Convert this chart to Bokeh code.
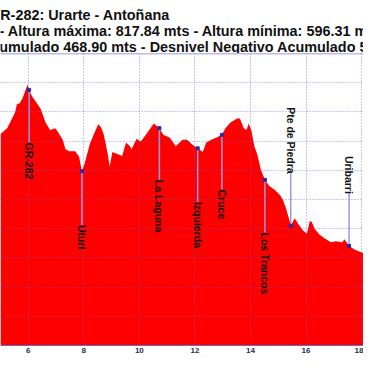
import math
from bokeh.plotting import figure
from bokeh.layouts import column
from bokeh.models import Range1d, Label, Span
from bokeh.embed import file_html
from bokeh.resources import INLINE
from bokeh.core.properties import value

# ---- profile data (km, metres) ----
km = [5.00, 5.24, 5.52, 5.59, 5.69, 5.79, 5.97, 6.03, 6.14, 6.31, 6.45, 6.62, 6.79,
      6.97, 7.07, 7.24, 7.34, 7.48, 7.69, 7.83, 7.93, 8.03, 8.21, 8.38, 8.52, 8.62,
      8.72, 8.86, 8.93, 9.03, 9.21, 9.38, 9.52, 9.66, 9.72, 9.90, 10.03, 10.10,
      10.28, 10.52, 10.72, 10.86, 11.10, 11.31, 11.45, 11.55, 11.72, 11.90, 12.10,
      12.28, 12.41, 12.59, 12.76, 12.97, 13.10, 13.28, 13.52, 13.62, 13.76, 13.86,
      13.93, 14.03, 14.14, 14.24, 14.38, 14.52, 14.66, 14.90, 15.07, 15.17, 15.28,
      15.41, 15.45, 15.59, 15.72, 15.90, 16.03, 16.14, 16.21, 16.31, 16.48, 16.66,
      16.90, 17.07, 17.31, 17.38, 17.55, 17.76, 18.03, 18.10]
elev = [767.4, 773.3, 789.0, 797.9, 798.9, 803.8, 817.84, 812.6, 805.7, 798.9, 793.0,
        779.2, 771.3, 773.3, 769.3, 761.5, 751.6, 749.7, 749.7, 743.8, 729.0, 736.9,
        756.6, 768.4, 777.2, 774.3, 766.4, 746.7, 733.9, 748.7, 746.7, 744.8, 758.5,
        754.6, 751.6, 762.5, 759.5, 761.5, 768.4, 778.2, 773.3, 766.4, 763.4, 754.6,
        758.5, 761.5, 761.5, 756.6, 752.6, 748.7, 758.5, 761.5, 763.4, 766.4, 773.3,
        779.2, 783.1, 783.1, 773.3, 771.3, 778.2, 771.3, 754.6, 746.7, 730.0, 720.2,
        714.3, 709.3, 704.4, 699.5, 690.7, 677.9, 673.0, 680.8, 674.9, 668.0, 665.1,
        677.9, 676.9, 670.0, 664.1, 660.2, 656.2, 657.2, 656.2, 659.2, 652.3, 648.4,
        645.4, 644.5]

# ---- waypoints ----
wp_names = ["GR-282", "Uturi", "La Laguna", "Izquierda", "Cruce", "Los Trancos",
            "Pte de Piedra", "Uribarri"]
wp_km = [6.03, 7.93, 10.72, 12.10, 12.97, 14.52, 15.45, 17.55]
wp_elev = [812.6, 729.0, 773.3, 752.6, 766.4, 720.2, 673.0, 652.3]
label_top = [758.5, 673.9, 720.2, 697.5, 710.3, 666.1, 794.9, 744.8]
line_end = [758.5, 673.9, 720.2, 697.5, 710.3, 666.1, 727.0, 707.4]

# ---- texts & ticks ----
title_lines = ["GR-282: Urarte - Antoñana",
               "- Altura máxima: 817.84 mts - Altura mínima: 596.31 mts",
               "Desnivel Positivo Acumulado 468.90 mts - Desnivel Negativo Acumulado 5"]
title_x = [4.586, 4.966, -0.121]
title_y = [38.6, 22.3, 6.1]          # pixels above the bottom of the title strip
x_ticks = [6, 8, 10, 12, 14, 16, 18]
y_grid = [580, 610, 640, 670, 700, 730, 760, 790, 820]
y_bottom, y_top = 550, 850
x_left, x_right = 5.0, 18.069

# ---- title strip ----
t = figure(width=363, height=53, output_backend="svg", toolbar_location=None,
           x_range=Range1d(x_left, x_right), y_range=Range1d(0, 53),
           x_axis_location=None, y_axis_location=None,
           min_border_left=0, min_border_right=0, min_border_top=0, min_border_bottom=0)
t.outline_line_color = None
t.xgrid.visible = False
t.ygrid.visible = False
t.background_fill_color = "white"
t.border_fill_color = "white"
for txt, tx, ty in zip(title_lines, title_x, title_y):
    t.add_layout(Label(x=tx, y=ty, text=txt, text_font="Liberation Sans",
                       text_font_size="14.4px", text_font_style="bold",
                       text_color="#111111", text_align="left",
                       text_baseline="alphabetic"))

# ---- profile chart ----
p = figure(width=363, height=310, output_backend="svg", toolbar_location=None,
           x_range=Range1d(x_left, x_right), y_range=Range1d(y_bottom, y_top),
           y_axis_location=None, min_border_left=0, min_border_right=0,
           min_border_top=0, min_border_bottom=18)
p.outline_line_color = None
p.background_fill_color = "white"
p.border_fill_color = "white"

p.varea(x=km, y1=y_bottom, y2=elev, color="#ff0000")

p.xgrid.ticker = x_ticks
p.ygrid.ticker = y_grid
for g in (p.xgrid, p.ygrid):
    g.grid_line_color = "#5a5ad2"
    g.grid_line_alpha = 0.65
    g.grid_line_dash = "1 2"
    g.grid_line_width = 1
    g.level = "annotation"

p.add_layout(Span(location=y_top, dimension="width", line_color="#7a7ad8", line_width=1.5))

ax = p.xaxis[0]
ax.ticker = x_ticks
ax.major_tick_in = 0
ax.major_tick_out = 0
ax.minor_tick_in = 0
ax.minor_tick_out = 0
ax.major_label_standoff = 2
ax.axis_line_color = "#6a6ac0"
ax.major_label_text_font = "Liberation Sans"
ax.major_label_text_font_size = "8px"
ax.major_label_text_font_style = "bold"
ax.major_label_text_color = "#1f2f4f"

p.segment(x0=wp_km, y0=wp_elev, x1=wp_km, y1=line_end, line_color="#9a9ae0",
          line_width=1.5)
p.scatter(x=wp_km, y=wp_elev, marker="square", size=3, color="#2a2aa8", level="overlay")
p.text(x=wp_km, y=label_top, text=wp_names, angle=-math.pi / 2, text_align="left",
       text_baseline="alphabetic", text_font=value("Liberation Sans"),
       text_font_size="10.5px", text_font_style="bold", text_color="#141414",
       level="overlay")

layout = column(t, p, spacing=0)
open("out.html", "w").write(file_html(layout, INLINE))
